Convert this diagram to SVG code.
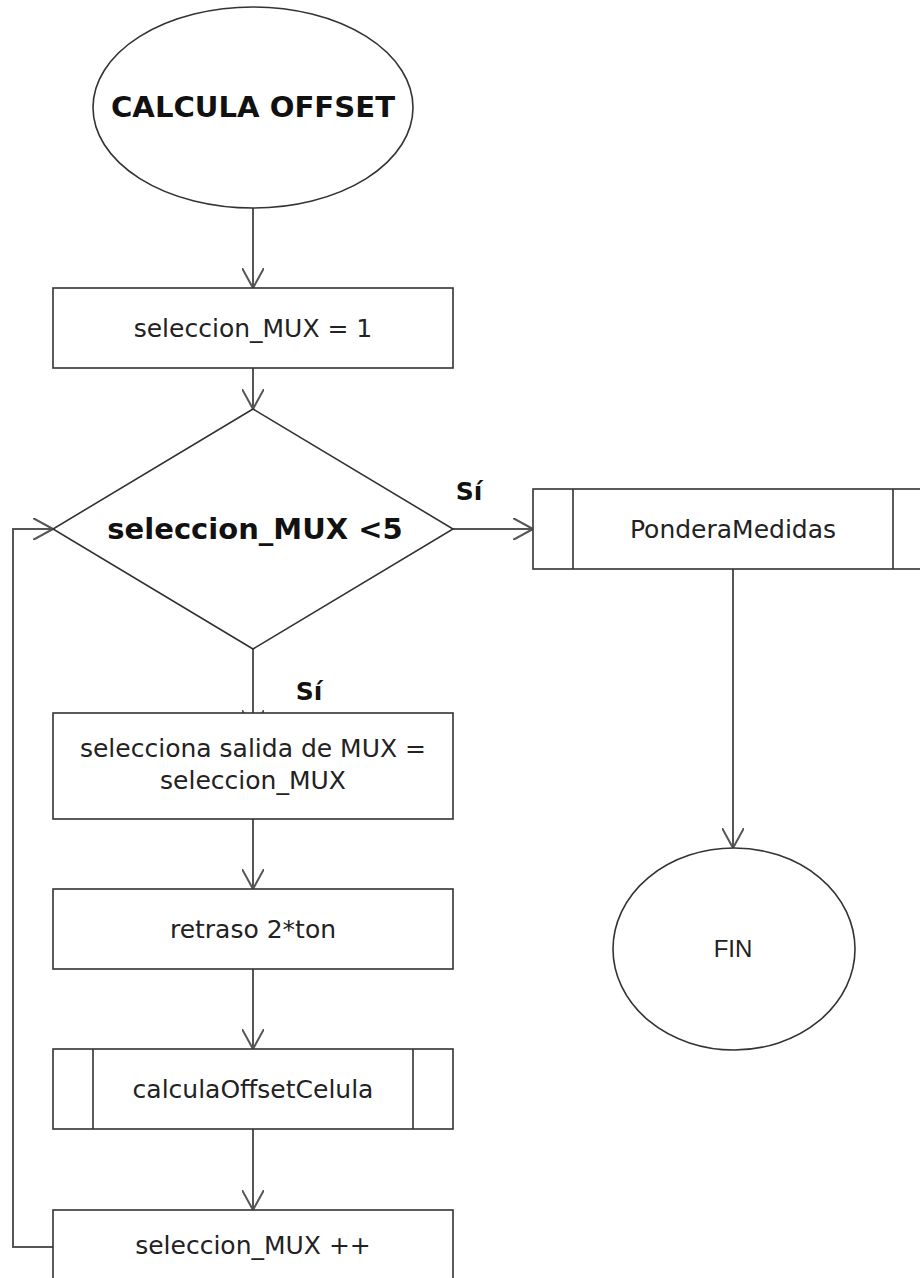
<svg xmlns="http://www.w3.org/2000/svg" width="920" height="1278" viewBox="0 0 920 1278">
  <style>
    .shape { fill: #ffffff; stroke: #333333; stroke-width: 1.6; }
    .conn { fill: none; stroke: #555555; stroke-width: 2; }
    .txt { font-family: "DejaVu Sans", Verdana, sans-serif; font-size: 25px; fill: #222222; text-anchor: middle; }
    .bold { font-family: "DejaVu Sans", Verdana, sans-serif; font-weight: bold; fill: #111111; text-anchor: middle; }
    .fin { font-family: "Liberation Sans", Arial, sans-serif; font-size: 24px; fill: #222222; text-anchor: middle; }
  </style>
  <defs>
    <marker id="arrow" viewBox="0 0 20 22" refX="20" refY="11" markerWidth="20" markerHeight="22" markerUnits="userSpaceOnUse" orient="auto">
      <path d="M0,0 L20,11 L0,22" fill="none" stroke="#555555" stroke-width="2"/>
    </marker>
  </defs>

  <rect x="0" y="0" width="920" height="1278" fill="#ffffff"/>

  <!-- connectors -->
  <g id="connectors">
    <line class="conn" x1="253" y1="208" x2="253" y2="288" marker-end="url(#arrow)"/>
    <line class="conn" x1="253" y1="368" x2="253" y2="409" marker-end="url(#arrow)"/>
    <line class="conn" x1="453" y1="529" x2="533" y2="529" marker-end="url(#arrow)"/>
    <line class="conn" x1="733" y1="569" x2="733" y2="848" marker-end="url(#arrow)"/>
    <line class="conn" x1="253" y1="649" x2="253" y2="730" marker-end="url(#arrow)"/>
    <line class="conn" x1="253" y1="819" x2="253" y2="889" marker-end="url(#arrow)"/>
    <line class="conn" x1="253" y1="969" x2="253" y2="1049" marker-end="url(#arrow)"/>
    <line class="conn" x1="253" y1="1129" x2="253" y2="1210" marker-end="url(#arrow)"/>
    <polyline class="conn" points="53,1247 13,1247 13,529 53,529" marker-end="url(#arrow)"/>
  </g>

  <!-- start -->
  <g id="inicio">
    <ellipse class="shape" cx="253" cy="107.5" rx="160" ry="100.5"/>
    <text class="bold" x="253" y="117" font-size="28" textLength="284" lengthAdjust="spacingAndGlyphs">CALCULA OFFSET</text>
  </g>

  <g id="init-mux">
    <rect class="shape" x="53" y="288" width="400" height="80"/>
    <text class="txt" x="253" y="337">seleccion_MUX = 1</text>
  </g>

  <g id="decision">
    <polygon class="shape" points="253,409 453,529 253,649 53,529"/>
    <text class="bold" x="255" y="539" font-size="29">seleccion_MUX &lt;5</text>
  </g>

  <g id="label-si-derecha">
    <text class="bold" x="469" y="500" font-size="25">Sí</text>
  </g>

  <g id="label-si-abajo">
    <text class="bold" x="309" y="700" font-size="25">Sí</text>
  </g>

  <g id="pondera">
    <rect class="shape" x="533" y="489" width="400" height="80"/>
    <line class="shape" x1="573" y1="489" x2="573" y2="569"/>
    <line class="shape" x1="893" y1="489" x2="893" y2="569"/>
    <text class="txt" x="733" y="538">PonderaMedidas</text>
  </g>

  <g id="fin">
    <ellipse class="shape" cx="734" cy="949" rx="121" ry="101"/>
    <text class="fin" x="733" y="957">FIN</text>
  </g>

  <g id="selecciona-salida">
    <rect class="shape" x="53" y="713" width="400" height="106"/>
    <text class="txt" x="253" y="757">selecciona salida de MUX =</text>
    <text class="txt" x="253" y="789">seleccion_MUX</text>
  </g>

  <g id="retraso">
    <rect class="shape" x="53" y="889" width="400" height="80"/>
    <text class="txt" x="253" y="938">retraso 2*ton</text>
  </g>

  <g id="calcula-celula">
    <rect class="shape" x="53" y="1049" width="400" height="80"/>
    <line class="shape" x1="93" y1="1049" x2="93" y2="1129"/>
    <line class="shape" x1="413" y1="1049" x2="413" y2="1129"/>
    <text class="txt" x="253" y="1098">calculaOffsetCelula</text>
  </g>

  <g id="incremento">
    <rect class="shape" x="53" y="1210" width="400" height="80"/>
    <text class="txt" x="253" y="1254">seleccion_MUX ++</text>
  </g>
</svg>
